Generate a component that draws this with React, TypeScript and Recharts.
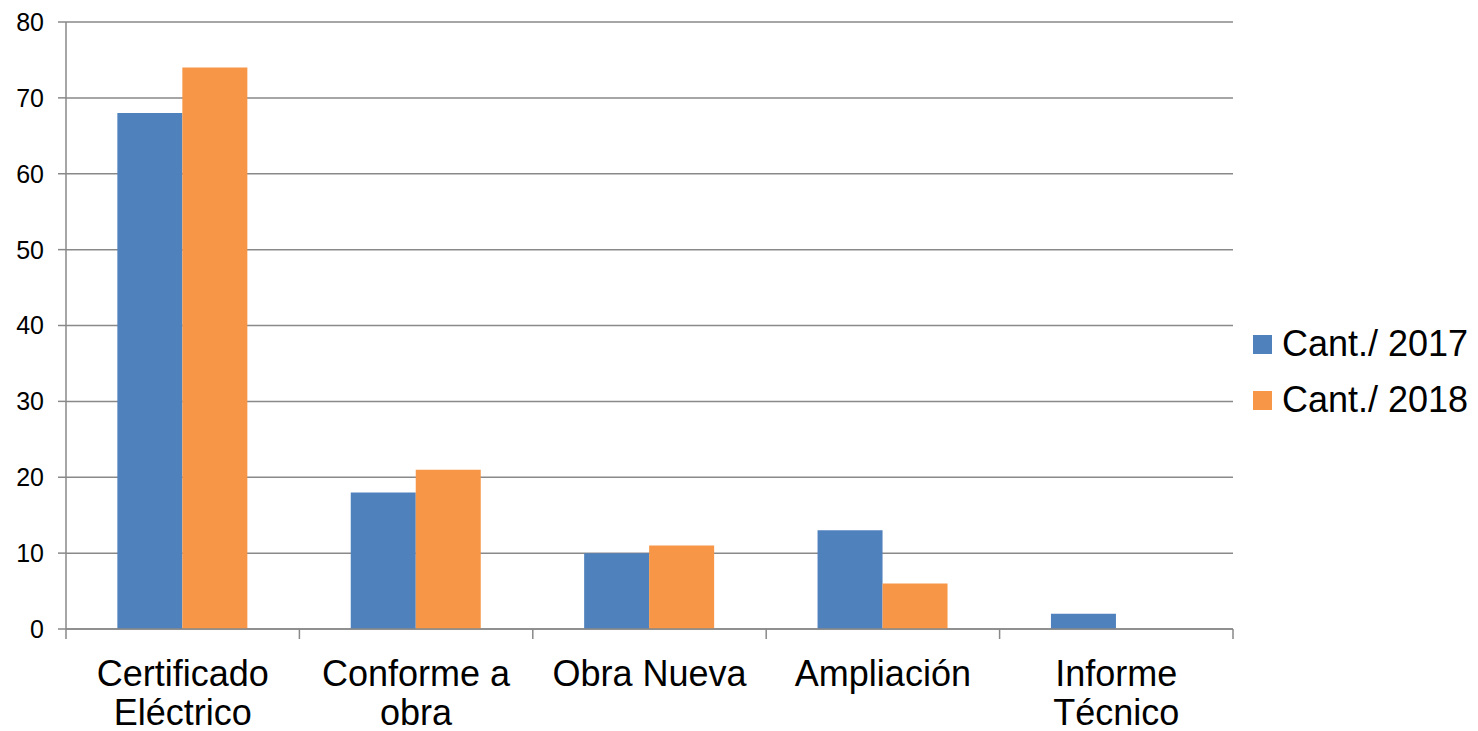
import React from 'react';
import { Bar, BarChart, CartesianGrid, XAxis, YAxis } from 'recharts';

const categories = [
  'Certificado\nEléctrico',
  'Conforme a\nobra',
  'Obra Nueva',
  'Ampliación',
  'Informe\nTécnico',
];
const cant2017 = [68, 18, 10, 13, 2];
const cant2018 = [74, 21, 11, 6, 0];
const yTicks = [0, 10, 20, 30, 40, 50, 60, 70, 80];

const SERIES = [
  { key: 'y2017', name: 'Cant./ 2017', color: '#4F81BD' },
  { key: 'y2018', name: 'Cant./ 2018', color: '#F79646' },
];

const data = categories.map((c, i) => ({
  name: c,
  y2017: cant2017[i],
  y2018: cant2018[i],
}));

const W = 1478;
const H = 731;
const MARGIN = { top: 22, right: 245, bottom: 0, left: 0 };
const Y_WIDTH = 66;
const BAND = (W - MARGIN.right - Y_WIDTH) / categories.length;
const FONT = '"Liberation Sans", Arial, sans-serif';
const AXIS = '#898989';

function CategoryTick(props: any) {
  const { x, y, payload, index } = props;
  const lines = String(payload.value).split('\n');
  return (
    <g>
      <line x1={x - BAND / 2} x2={x - BAND / 2} y1={y} y2={y + 10} stroke={AXIS} strokeWidth={1.5} />
      {index === categories.length - 1 && (
        <line x1={x + BAND / 2} x2={x + BAND / 2} y1={y} y2={y + 10} stroke={AXIS} strokeWidth={1.5} />
      )}
      <text x={x} y={y + 57} textAnchor="middle" fontSize={36} fontFamily={FONT} fill="#000">
        {lines.map((l, i) => (
          <tspan key={i} x={x} dy={i === 0 ? 0 : 39}>
            {l}
          </tspan>
        ))}
      </text>
    </g>
  );
}

export default function App() {
  return (
    <div style={{ position: 'absolute', left: 0, top: 0, width: W, height: H, background: '#fff' }}>
      <BarChart
        width={W}
        height={H}
        data={data}
        margin={MARGIN}
        barCategoryGap="22%"
        barGap={0}
      >
        <CartesianGrid vertical={false} stroke={AXIS} strokeWidth={1.5} />
        <XAxis
          dataKey="name"
          height={102}
          interval={0}
          tickLine={false}
          tickSize={0}
          tickMargin={0}
          axisLine={{ stroke: AXIS, strokeWidth: 1.5 }}
          tick={<CategoryTick />}
        />
        <YAxis
          width={Y_WIDTH}
          domain={[0, 80]}
          ticks={yTicks}
          interval={0}
          tickSize={8}
          tickMargin={14}
          axisLine={{ stroke: AXIS, strokeWidth: 1.5 }}
          tickLine={{ stroke: AXIS, strokeWidth: 1.5 }}
          tick={{ fontSize: 25, fontFamily: FONT, fill: '#000' }}
        />
        {SERIES.map((s) => (
          <Bar key={s.key} dataKey={s.key} name={s.name} fill={s.color} isAnimationActive={false} />
        ))}
      </BarChart>
      <div style={{ position: 'absolute', left: 1253, top: 316, fontFamily: FONT, fontSize: 36 }}>
        {SERIES.map((s) => (
          <div key={s.key} style={{ display: 'flex', alignItems: 'center', height: 56 }}>
            <span style={{ width: 19, height: 19, background: s.color, marginRight: 10, display: 'inline-block' }} />
            <span style={{ color: '#000' }}>{s.name}</span>
          </div>
        ))}
      </div>
    </div>
  );
}
